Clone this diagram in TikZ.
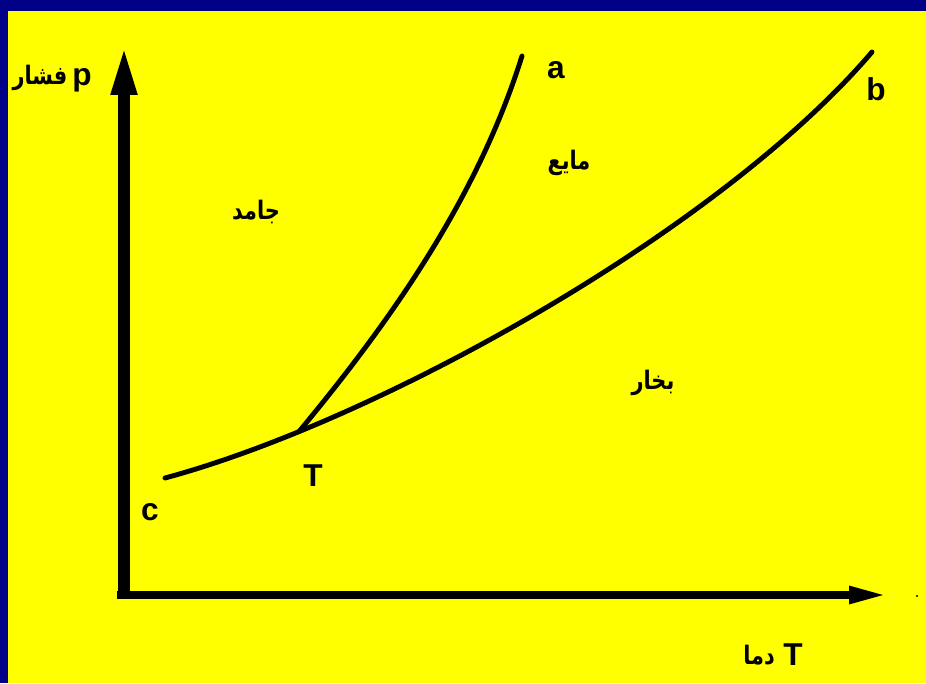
\documentclass[tikz,border=0pt]{standalone}
\usepackage{fontspec}
\setmainfont{Liberation Sans}
\newfontfamily\arabicfont[Script=Arabic,FakeStretch=0.82]{DejaVu Sans}
\TeXXeTstate=1
\usetikzlibrary{arrows.meta}
\definecolor{bgyellow}{RGB}{255,255,0}
\definecolor{bgnavy}{RGB}{0,0,135}

\begin{document}
\begin{tikzpicture}[x=0.02cm,y=-0.02cm,
  lbl/.style={font=\fontsize{18}{20}\selectfont\bfseries,inner sep=0pt},
  ar/.style={font=\fontsize{14.5}{17}\selectfont\arabicfont\bfseries,inner sep=0pt},
  curve/.style={line width=2.8pt,line cap=round}]
  \useasboundingbox (0,0) rectangle (926,683);
  \fill[bgnavy] (0,0) rectangle (926,683);
  \fill[bgyellow] (7.5,11) rectangle (926,683);
  % ejes
  \coordinate (o) at (124,599);
  \coordinate (ptop) at (124,43);
  \coordinate (h0) at (117,595);
  \coordinate (tend) at (888,595);
  \draw[line width=0.24cm,-{Triangle[length=1.04cm,width=0.46cm]}] (o)--(ptop);
  \draw[line width=0.16cm,-{Triangle[length=0.78cm,width=0.32cm]}] (h0)--(tend);
  \fill (917,596) circle (1.2);
  % extremos de las curvas
  \coordinate (c) at (165,478);
  \coordinate (b) at (872,52);
  \coordinate (a) at (522,56);
  % curva c-T-b (punto triple T sobre ella)
  \draw[curve] (c) .. controls (380,420) and (720,230) .. coordinate[pos=0.19] (T) (b);
  % curva T-a
  \draw[curve] (T) .. controls (400,310) and (480,190) .. (a);
  % textos
  \node[lbl] (plbl) at (82,80) {p};
  \node[ar] (pres) at (40,78) {\beginR فشار\endR};
  \node[lbl] (tlbl) at (793,655) {T};
  \node[ar] (temp) at (759,655) {\beginR دما\endR};
  \node[lbl] (albl) at (556,70) {a};
  \node[lbl] (blbl) at (876,89) {b};
  \node[lbl] (clbl) at (150,512) {c};
  \node[lbl] (tp) at (313,476) {T};
  \node[ar] (liq) at (569,163) {\beginR مایع\endR};
  \node[ar] (sol) at (256,212) {\beginR جامد\endR};
  \node[ar] (vap) at (653,383) {\beginR بخار\endR};
\end{tikzpicture}
\end{document}
